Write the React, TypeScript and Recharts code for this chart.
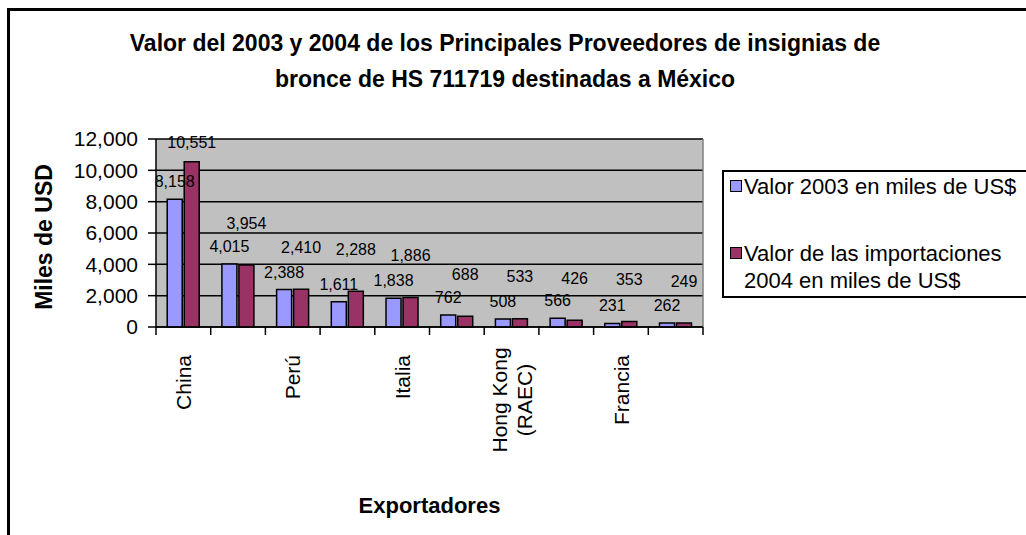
import React from "react";
import { BarChart, Bar, XAxis, YAxis, CartesianGrid, LabelList } from "recharts";

// Datos
const categories = ["China", "", "Perú", "", "Italia", "", "Hong Kong (RAEC)", "", "Francia", ""];
const valores2003 = [8158, 4015, 2388, 1611, 1838, 762, 508, 566, 231, 262];
const valores2004 = [10551, 3954, 2410, 2288, 1886, 688, 533, 426, 353, 249];
const yTicks = [0, 2000, 4000, 6000, 8000, 10000, 12000];

const seriesNames = ["Valor 2003 en miles de US$", "Valor de las importaciones 2004 en miles de US$"];
const seriesColors = ["#9999FF", "#993366"];
const titleLines = [
  "Valor del 2003 y 2004 de los Principales Proveedores de insignias de",
  "bronce de HS 711719 destinadas a México",
];

const data = categories.map((name, i) => ({
  name,
  v2003: valores2003[i],
  v2004: valores2004[i],
}));

const FONT = "'Liberation Sans', Arial, sans-serif";
const PLOT_LEFT = 156;
const PLOT_RIGHT = 703;
const PLOT_TOP = 139;
const PLOT_BOTTOM = 327;

const fmt = (v: number) => v.toLocaleString("en-US");

const CategoryTick = (props: any) => {
  const { x, payload, index } = props;
  const band = (PLOT_RIGHT - PLOT_LEFT) / categories.length;
  const lines = String(payload.value).split(/ (?=\()/).filter((s) => s.length > 0);
  const fs = 21;
  const multi = lines.length > 1;
  const longest = Math.max(0, ...lines.map((l) => l.length));
  return (
    <g>
      <line x1={x - band / 2} x2={x - band / 2} y1={PLOT_BOTTOM} y2={PLOT_BOTTOM + 8} stroke="#000" strokeWidth={1.5} />
      {index === categories.length - 1 && (
        <line x1={x + band / 2} x2={x + band / 2} y1={PLOT_BOTTOM} y2={PLOT_BOTTOM + 8} stroke="#000" strokeWidth={1.5} />
      )}
      <g transform={`translate(${x},${multi ? 348 : 355}) rotate(-90)`}>
        {lines.map((l, i) => (
          <text
            key={i}
            x={multi ? -(longest * fs * 0.55) / 2 : 0}
            y={(i - (lines.length - 1) / 2) * 25}
            dy="0.36em"
            textAnchor={multi ? "middle" : "end"}
            fontSize={fs}
            fontFamily={FONT}
            fill="#000"
          >
            {l}
          </text>
        ))}
      </g>
    </g>
  );
};

const makeValueLabel = (lift: number) => (props: any) => {
  const { x, y, width, value } = props;
  const cy = Math.max(y - lift, PLOT_TOP + 3);
  return (
    <text
      x={x + width / 2}
      y={cy}
      dy="0.35em"
      textAnchor="middle"
      fontSize={16}
      fontFamily={FONT}
      fill="#000"
    >
      {fmt(value)}
    </text>
  );
};

const Legend2 = () => (
  <div
    style={{
      position: "absolute",
      left: 722,
      top: 170,
      width: 400,
      height: 124,
      border: "2px solid #000",
      background: "#fff",
      fontFamily: FONT,
      fontSize: 22,
      lineHeight: "27px",
      color: "#000",
    }}
  >
    {seriesNames.map((n, i) => (
      <div key={n} style={{ position: "absolute", left: 6, top: i === 0 ? 1 : 68, display: "flex" }}>
        <div
          style={{
            width: 10,
            height: 10,
            marginTop: 7,
            border: "1.5px solid #000",
            background: seriesColors[i],
            flex: "none",
          }}
        />
        <div style={{ width: 285, marginLeft: 2 }}>{n}</div>
      </div>
    ))}
  </div>
);

export default function App() {
  return (
    <div
      style={{
        position: "absolute",
        left: 0,
        top: 0,
        width: 1026,
        height: 535,
        overflow: "hidden",
        background: "#fff",
      }}
    >
      <div
        style={{
          position: "absolute",
          left: 7,
          top: 8,
          width: 1100,
          height: 600,
          border: "3px solid #000",
        }}
      />
      <div
        style={{
          position: "absolute",
          left: 0,
          top: 25,
          width: 1010,
          textAlign: "center",
          fontFamily: FONT,
          fontWeight: "bold",
          fontSize: 23,
          lineHeight: "36px",
          color: "#000",
        }}
      >
        {titleLines.map((t) => (
          <div key={t}>{t}</div>
        ))}
      </div>
      <div style={{ position: "absolute", left: 0, top: 0 }}>
        <BarChart
          width={1026}
          height={535}
          data={data}
          margin={{ top: PLOT_TOP, right: 1026 - PLOT_RIGHT, bottom: 535 - PLOT_BOTTOM - 120, left: 0 }}
          barCategoryGap="20.5%"
          barGap={2}
        >
          <CartesianGrid fill="#C0C0C0" stroke="#000" strokeWidth={1.5} vertical={false} fillOpacity={1} />
          <CartesianGrid stroke="#808080" strokeWidth={1.5} horizontal={false} verticalPoints={[PLOT_RIGHT]} />
          <XAxis
            dataKey="name"
            height={120}
            interval={0}
            tickLine={false}
            axisLine={{ stroke: "#000", strokeWidth: 1.5 }}
            tick={<CategoryTick />}
            label={{
              content: (p: any) => {
                const vb = p.viewBox;
                return (
                  <text
                    x={vb.x + vb.width / 2}
                    y={505}
                    dy="0.35em"
                    textAnchor="middle"
                    fontSize={22}
                    fontWeight="bold"
                    fontFamily={FONT}
                    fill="#000"
                  >
                    Exportadores
                  </text>
                );
              },
            }}
          />
          <YAxis
            width={PLOT_LEFT}
            domain={[0, 12000]}
            ticks={yTicks}
            interval={0}
            tickSize={8}
            tickMargin={10}
            tickFormatter={fmt}
            tick={{ fontSize: 21, fontFamily: FONT, fill: "#000" }}
            tickLine={{ stroke: "#000", strokeWidth: 1.5 }}
            axisLine={{ stroke: "#000", strokeWidth: 1.5 }}
            label={{
              content: (p: any) => {
                const vb = p.viewBox;
                const cx = 44;
                const cy = vb.y + vb.height / 2 + 4;
                return (
                  <text
                    x={cx}
                    y={cy}
                    dy="0.35em"
                    transform={`rotate(-90 ${cx} ${cy})`}
                    textAnchor="middle"
                    fontSize={23}
                    fontWeight="bold"
                    fontFamily={FONT}
                    fill="#000"
                  >
                    Miles de USD
                  </text>
                );
              },
            }}
          />
          <Bar dataKey="v2003" name={seriesNames[0]} fill={seriesColors[0]} stroke="#000" strokeWidth={1.5} isAnimationActive={false}>
            <LabelList dataKey="v2003" content={makeValueLabel(17.5)} />
          </Bar>
          <Bar dataKey="v2004" name={seriesNames[1]} fill={seriesColors[1]} stroke="#000" strokeWidth={1.5} isAnimationActive={false}>
            <LabelList dataKey="v2004" content={makeValueLabel(42)} />
          </Bar>
        </BarChart>
      </div>
      <Legend2 />
    </div>
  );
}
